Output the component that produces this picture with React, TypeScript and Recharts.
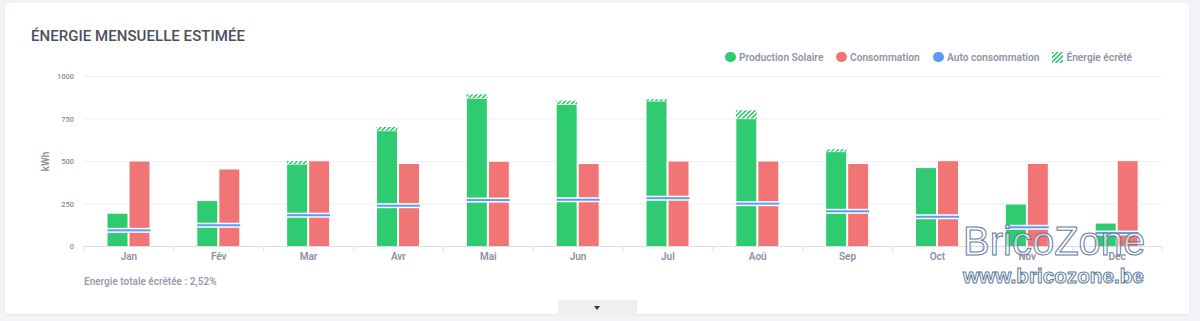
import React from 'react';
import { ComposedChart, Bar, Scatter, XAxis, YAxis, CartesianGrid } from 'recharts';

const months = ['Jan', 'Fév', 'Mar', 'Avr', 'Mai', 'Jun', 'Jul', 'Aoû', 'Sep', 'Oct', 'Nov', 'Dec'];
const production = [196, 270, 485, 681, 872, 836, 856, 752, 558, 464, 250, 138];
const consumption = [503, 456, 504, 488, 502, 488, 503, 503, 488, 505, 489, 505];
const autoConsumption = [95, 125, 184, 240, 273, 275, 284, 252, 207, 175, 113, 79];
const clipped = [0, 0, 18, 22, 23, 22, 10, 49, 14, 0, 0, 0];
const yTicks = [0, 250, 500, 750, 1000];

const legendItems = [
  { label: 'Production Solaire', color: '#2ecb71', type: 'circle', left: 725.4 },
  { label: 'Consommation', color: '#f17575', type: 'circle', left: 836.4 },
  { label: 'Auto consommation', color: '#5b9bf6', type: 'circle', left: 933.4 },
  { label: 'Énergie écrêté', color: '#2ecb71', type: 'hatch', left: 1052.4 },
];

const data = months.map((m, i) => ({
  month: m,
  prod: production[i],
  cons: consumption[i],
  auto: autoConsumption[i],
  clip: clipped[i],
}));

const W = 1200;
const H = 321;
const M = { top: 76.5, right: 38, bottom: 44.5, left: 0 };
const Y_AXIS_W = 84;
const X_AXIS_H = 30;
const AXIS_Y = H - M.bottom - X_AXIS_H;
const BAND = (W - M.right - Y_AXIS_W - M.left) / months.length;

const GREEN = '#2ecb71';
const RED = '#f17575';
const BLUE = '#5b9bf6';
const GRAY_TEXT = '#8c90a2';
const FONT = 'Roboto, "Noto Sans", sans-serif';

const XTick = (props: any) => {
  const { x, payload, index } = props;
  const left = x - BAND / 2;
  return (
    <g>
      <line x1={left} x2={left} y1={AXIS_Y} y2={AXIS_Y + 5} stroke="#dcdde8" strokeWidth={1} />
      {index === months.length - 1 && (
        <line x1={x + BAND / 2} x2={x + BAND / 2} y1={AXIS_Y} y2={AXIS_Y + 5} stroke="#dcdde8" strokeWidth={1} />
      )}
      <text x={x} y={AXIS_Y + 13} textAnchor="middle" fill={GRAY_TEXT} fontSize={10} fontWeight={600} fontFamily={FONT}>
        {payload.value}
      </text>
    </g>
  );
};

const AutoLine = (props: any) => {
  const { cx, cy } = props;
  if (cx == null || cy == null) return null;
  return (
    <g>
      <rect x={cx - 22} y={cy - 2.5} width={44} height={5} fill="#ffffff" />
      <rect x={cx - 21.5} y={cy - 1} width={43} height={2} fill={BLUE} />
    </g>
  );
};

export default function App() {
  return (
    <div style={{ position: 'absolute', left: 0, top: 0, width: W, height: H, background: '#f2f3f6', overflow: 'hidden', fontFamily: FONT }}>
      <div style={{ position: 'absolute', left: 5, top: 3, width: 1184, height: 311, background: '#ffffff', borderRadius: 3, boxShadow: '0 1px 2px rgba(0,0,0,0.06)' }} />
      <div style={{ position: 'absolute', left: 31, top: 27, fontSize: 15, fontWeight: 500, color: '#4b4f5e', letterSpacing: 0.05, whiteSpace: 'nowrap' }}>
        ÉNERGIE MENSUELLE ESTIMÉE
      </div>
      {legendItems.map((it) => (
        <div key={it.label} style={{ position: 'absolute', left: it.left, top: 50, height: 14, display: 'flex', alignItems: 'center', whiteSpace: 'nowrap' }}>
          {it.type === 'circle' ? (
            <div style={{ width: 10.6, height: 10.6, borderRadius: '50%', background: it.color }} />
          ) : (
            <svg width={11} height={11}>
              <defs>
                <pattern id="legHatch" width={3.2} height={3.2} patternUnits="userSpaceOnUse" patternTransform="rotate(45)">
                  <rect x={0} y={0} width={1.6} height={3.2} fill={GREEN} />
                </pattern>
              </defs>
              <rect x={0} y={0} width={11} height={11} fill="url(#legHatch)" />
            </svg>
          )}
          <span style={{ marginLeft: 3, fontSize: 10.2, fontWeight: 600, color: '#9094a8' }}>{it.label}</span>
        </div>
      ))}
      <div style={{ position: 'absolute', left: 0, top: 0 }}>
        <ComposedChart width={W} height={H} data={data} margin={M} barGap={1}>
          <defs>
            <pattern id="hatch" width={3.2} height={3.2} patternUnits="userSpaceOnUse" patternTransform="rotate(45)">
              <rect x={0} y={0} width={3.2} height={3.2} fill="#ffffff" />
              <rect x={0} y={0} width={1.6} height={3.2} fill={GREEN} />
            </pattern>
          </defs>
          <CartesianGrid vertical={false} stroke="#eeeff3" strokeWidth={1} />
          <XAxis
            dataKey="month"
            height={X_AXIS_H}
            axisLine={{ stroke: '#dcdde8' }}
            tickLine={false}
            interval={0}
            tick={<XTick />}
          />
          <YAxis
            width={Y_AXIS_W}
            domain={[0, 1000]}
            ticks={yTicks}
            axisLine={false}
            tickLine={false}
            tickMargin={4}
            tick={{ fill: '#8a8d9c', fontSize: 7.5, fontWeight: 500, fontFamily: FONT }}
            label={{
              content: (p: any) => {
                const vb = p.viewBox || { y: M.top, height: AXIS_Y - M.top };
                const cy = vb.y + vb.height / 2;
                return (
                  <text x={45} y={cy} transform={`rotate(-90 45 ${cy})`} textAnchor="middle" dominantBaseline="central" fill={GRAY_TEXT} fontSize={10} fontWeight={600} fontFamily={FONT}>
                    kWh
                  </text>
                );
              },
            }}
          />
          <Bar dataKey="prod" stackId="p" fill={GREEN} stroke="#ffffff" strokeWidth={1} barSize={21} isAnimationActive={false} />
          <Bar dataKey="clip" stackId="p" fill="url(#hatch)" barSize={21} isAnimationActive={false} />
          <Bar dataKey="cons" stackId="c" fill={RED} stroke="#ffffff" strokeWidth={1} barSize={21} isAnimationActive={false} />
          <Scatter dataKey="auto" shape={<AutoLine />} isAnimationActive={false} />
        </ComposedChart>
      </div>
      <div style={{ position: 'absolute', left: 84, top: 276, fontSize: 10, fontWeight: 600, color: '#9a9db0', whiteSpace: 'nowrap' }}>
        Energie totale écrêtée : 2,52%
      </div>
      <div style={{ position: 'absolute', left: 558, top: 300, width: 79, height: 15, background: '#efefef' }}>
        <div style={{ position: 'absolute', left: 35.5, top: 6, width: 0, height: 0, borderLeft: '3.5px solid transparent', borderRight: '3.5px solid transparent', borderTop: '4px solid #3a3a3a' }} />
      </div>
      <div style={{ position: 'absolute', left: 963, top: 221, fontFamily: '"Liberation Sans", Arial, sans-serif', fontSize: 40, color: 'rgba(255,255,255,0.55)', WebkitTextStroke: '1px #5d7c9c', whiteSpace: 'nowrap', lineHeight: '40px' }}>
        BricoZone
      </div>
      <div style={{ position: 'absolute', left: 963, top: 264, fontFamily: '"Liberation Sans", Arial, sans-serif', fontSize: 20.7, fontWeight: 700, color: 'rgba(255,255,255,0.55)', WebkitTextStroke: '1px #5d7c9c', whiteSpace: 'nowrap', lineHeight: '24px' }}>
        www.bricozone.be
      </div>
    </div>
  );
}
